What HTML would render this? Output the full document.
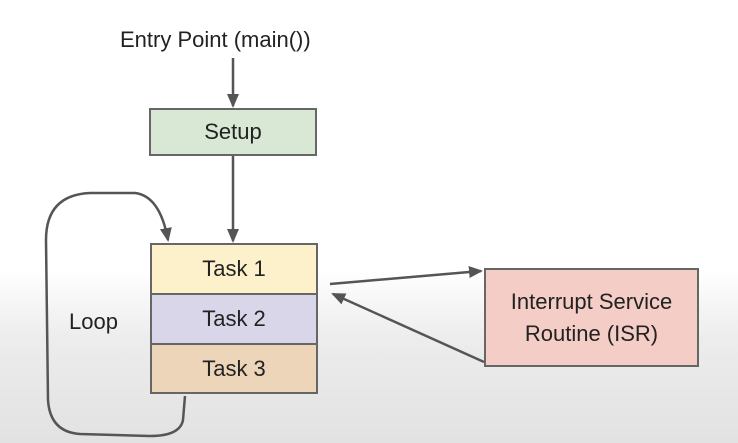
<!DOCTYPE html>
<html><head><style>
body{margin:0;width:738px;height:443px;overflow:hidden;background:linear-gradient(to bottom,#fff 0,#fff 270px,#ececec 340px,#e2e2e2 443px);font-family:"Liberation Sans",sans-serif;}
.b{position:absolute;box-sizing:border-box;border:2px solid #666;display:flex;align-items:center;justify-content:center;text-align:center;font-size:22px;color:#222;}
.t{position:absolute;font-size:22px;color:#222;}
</style></head><body>
<div class="t" style="left:120px;top:27px;">Entry Point (main())</div>
<div class="b" style="left:149px;top:108px;width:168px;height:48px;background:#d8e8d4;">Setup</div>
<div class="b" style="left:150px;top:243px;width:168px;height:52px;background:#fdf1cc;">Task 1</div>
<div class="b" style="left:150px;top:293px;width:168px;height:52px;background:#d9d6ea;">Task 2</div>
<div class="b" style="left:150px;top:343px;width:168px;height:51px;background:#edd5b9;">Task 3</div>
<div class="b" style="left:484px;top:268px;width:215px;height:99px;background:#f4cdc7;line-height:32px;">Interrupt Service<br>Routine (ISR)</div>
<div class="t" style="left:69px;top:309px;">Loop</div>
<svg width="738" height="443" style="position:absolute;left:0;top:0" fill="none" stroke="#555" stroke-width="2.5">
<defs><marker id="a" markerWidth="14" markerHeight="12" refX="12" refY="6" orient="auto" markerUnits="userSpaceOnUse"><path d="M0,0L14,6L0,12z" fill="#555" stroke="none"/></marker></defs>
<line x1="233" y1="58" x2="233" y2="106" marker-end="url(#a)"/>
<line x1="233" y1="156" x2="233" y2="241" marker-end="url(#a)"/>
<line x1="330" y1="284" x2="481" y2="271" marker-end="url(#a)"/>
<line x1="484" y1="362" x2="333" y2="294" marker-end="url(#a)"/>
<path d="M185,396 L183,420 Q180,436 150,436 L80,434 Q50,432 48,400 L46,240 Q46,195 90,193 L135,193 Q160,196 168,240" marker-end="url(#a)"/>
</svg>
</body></html>
